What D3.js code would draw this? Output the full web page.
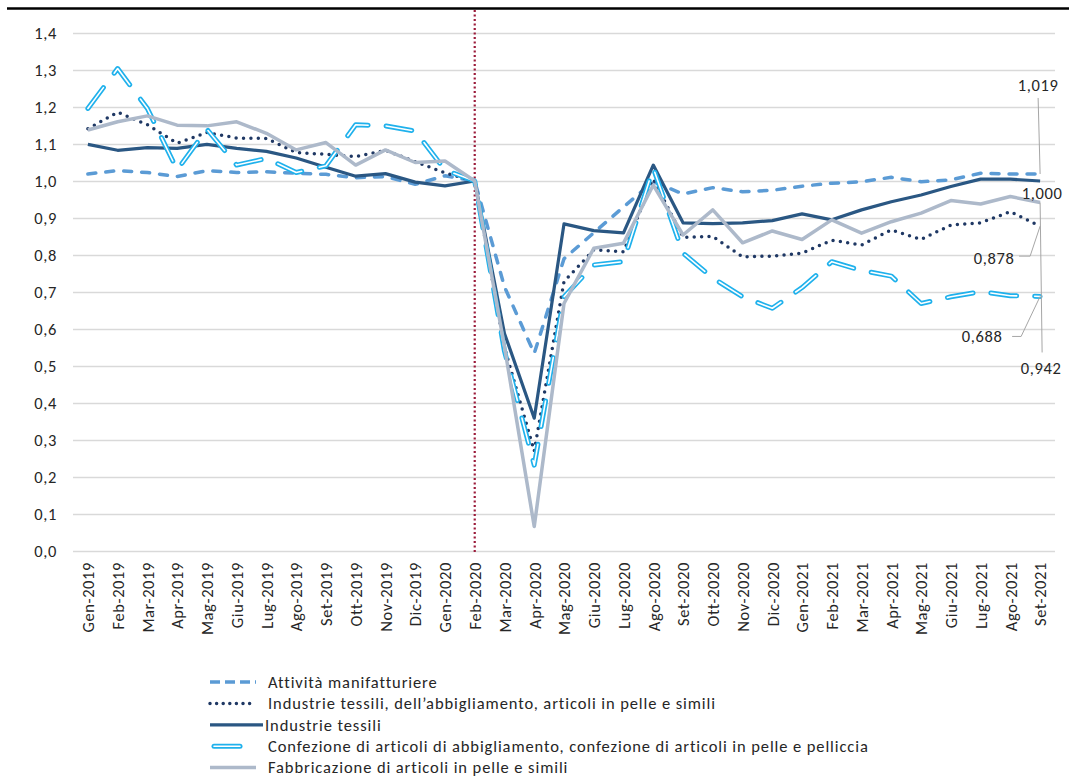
<!DOCTYPE html>
<html>
<head>
<meta charset="utf-8">
<script src="https://cdn.jsdelivr.net/npm/d3@7"></script>
<style>
	body { margin: 0; background: #fff; }
	text { font-family: Carlito, Lato, "Open Sans", sans-serif; }
</style>
</head>
<body>
<div id="chart"></div>
<script>
// mesi (asse x)
const months = ['Gen-2019','Feb-2019','Mar-2019','Apr-2019','Mag-2019','Giu-2019','Lug-2019','Ago-2019','Set-2019','Ott-2019','Nov-2019','Dic-2019',
	'Gen-2020','Feb-2020','Mar-2020','Apr-2020','Mag-2020','Giu-2020','Lug-2020','Ago-2020','Set-2020','Ott-2020','Nov-2020','Dic-2020',
	'Gen-2021','Feb-2021','Mar-2021','Apr-2021','Mag-2021','Giu-2021','Lug-2021','Ago-2021','Set-2021'];

const attivita   = [1.019,1.028,1.023,1.012,1.028,1.023,1.025,1.021,1.018,1.009,1.012,0.991,1.014,1.000,
	0.714,0.534,0.790,0.860,0.930,0.998,0.965,0.982,0.971,0.975,0.986,0.994,0.998,1.010,0.998,1.003,1.021,1.019,1.019];
const tessAbbPel = [1.141,1.186,1.152,1.102,1.131,1.116,1.115,1.077,1.072,1.066,1.083,1.052,1.022,1.000,
	0.550,0.270,0.728,0.814,0.809,1.005,0.848,0.850,0.795,0.797,0.805,0.840,0.827,0.868,0.842,0.881,0.887,0.917,0.878];
const tessili    = [1.099,1.083,1.090,1.088,1.099,1.088,1.080,1.062,1.037,1.013,1.020,0.997,0.987,1.000,
	0.588,0.359,0.884,0.866,0.860,1.043,0.887,0.885,0.887,0.893,0.911,0.895,0.922,0.944,0.962,0.985,1.005,1.005,1.000];
const confezione = [1.196,1.304,1.196,1.030,1.140,1.043,1.061,1.023,1.041,1.152,1.149,1.135,1.030,1.000,
	0.540,0.232,0.687,0.773,0.782,1.035,0.805,0.738,0.687,0.656,0.712,0.782,0.758,0.743,0.669,0.687,0.701,0.690,0.688];
const pelle      = [1.138,1.160,1.176,1.151,1.149,1.160,1.129,1.084,1.104,1.043,1.084,1.050,1.054,1.000,
	0.552,0.066,0.669,0.818,0.832,0.989,0.854,0.922,0.833,0.865,0.842,0.895,0.859,0.890,0.913,0.947,0.938,0.958,0.942];

const seriesNames = ['Attività manifatturiere',
	'Industrie tessili, dell\u2019abbigliamento, articoli in pelle e simili',
	'Industrie tessili',
	'Confezione di articoli di abbigliamento, confezione di articoli in pelle e pelliccia',
	'Fabbricazione di articoli in pelle e simili'];
const seriesValues = [attivita, tessAbbPel, tessili, confezione, pelle];
const endLabels = ['1,019', '0,878', '1,000', '0,688', '0,942'];
const yTicks = d3.range(0, 15).map(d => d / 10);
const eventMonth = 'Feb-2020';

let width  = 1069,
	height = 780,
	plot   = {left: 73, right: 1055, top: 33, bottom: 551},
	fontSize = '16.5px',
	spacing  = '0.6px',
	styles = [
		{color: '#5b9bd5', width: 3.5, dash: '8,10', cap: 'round'},
		{color: '#1f3864', width: 3.5, dash: '0,7.4', cap: 'round'},
		{color: '#2a5783', width: 3.2, dash: null, cap: 'butt'},
		{color: '#1fb1ec', width: 5, dash: '26,18', cap: 'round', inner: true},
		{color: '#adb9ca', width: 3.5, dash: null, cap: 'butt'}
	],
	// label placement: [dx, dy] of text from last point, leader polyline offsets
	labelPos = [
		{dx: -2, dy: -89, leader: [[0, 0], [-2, -76]]},
		{dx: -46, dy: 32, leader: [[0, 0], [-10, 30], [-21, 30]]},
		{dx: 2, dy: 12, leader: null},
		{dx: -58, dy: 40, leader: [[0, 0], [-19, 40], [-28, 40]]},
		{dx: 1, dy: 166, leader: [[0, 0], [2, 150]]}
	];

let x = d3.scalePoint().domain(months).range([plot.left, plot.right]).padding(0.5);
let y = d3.scaleLinear().domain([0, 1.4]).range([plot.bottom, plot.top]);
let fmt = d => d3.format('.1f')(d).replace('.', ',');

let svg = d3.select('#chart').append('svg')
	.attr('width', width)
	.attr('height', height);

// top rule
svg.append('line')
	.attr('x1', 7).attr('x2', width)
	.attr('y1', 8.5).attr('y2', 8.5)
	.style('stroke', '#000')
	.style('stroke-width', 2.5);

// grid
svg.append('g')
	.selectAll('line')
	.data(yTicks).enter().append('line')
	.attr('x1', plot.left).attr('x2', plot.right)
	.attr('y1', d => Math.round(y(d)) + 0.5)
	.attr('y2', d => Math.round(y(d)) + 0.5)
	.style('stroke', '#d9d9d9')
	.style('stroke-width', 1.3);

// y axis labels
let yAxis = svg.append('g')
	.attr('transform', `translate(${plot.left}, 0)`)
	.call(d3.axisLeft(y).tickValues(yTicks).tickFormat(fmt).tickSize(0).tickPadding(16));
yAxis.select('.domain').remove();
yAxis.selectAll('text')
	.style('font-size', fontSize)
	.style('letter-spacing', spacing)
	.style('fill', '#262626');

// x axis labels
let xAxis = svg.append('g')
	.attr('transform', `translate(0, ${plot.bottom})`)
	.call(d3.axisBottom(x).tickSize(0).tickPadding(0));
xAxis.select('.domain').remove();
xAxis.selectAll('text')
	.attr('transform', 'rotate(-90)')
	.attr('x', -11)
	.attr('y', 0)
	.attr('dy', '0.35em')
	.style('text-anchor', 'end')
	.style('font-size', fontSize)
	.style('letter-spacing', spacing)
	.style('fill', '#262626');

// event line
svg.append('line')
	.attr('x1', x(eventMonth)).attr('x2', x(eventMonth))
	.attr('y1', 10).attr('y2', plot.bottom + 2)
	.style('stroke', '#9b1b3a')
	.style('stroke-width', 2.2)
	.style('stroke-dasharray', '2,2.5');

let line = d3.line()
	.x((d, i) => x(months[i]))
	.y(d => y(d));

let seriesData = seriesValues.map((values, k) => ({values, k}));

let series = svg.append('g').selectAll('g')
	.data(seriesData).enter().append('g');

series.append('path')
	.attr('d', d => line(d.values))
	.style('fill', 'none')
	.style('stroke', d => styles[d.k].color)
	.style('stroke-width', d => styles[d.k].width)
	.style('stroke-dasharray', d => styles[d.k].dash)
	.style('stroke-linecap', d => styles[d.k].cap)
	.style('stroke-linejoin', 'round');

series.filter(d => styles[d.k].inner)
	.append('path')
	.attr('d', d => line(d.values))
	.style('fill', 'none')
	.style('stroke', '#fff')
	.style('stroke-width', 1.6)
	.style('stroke-dasharray', '26,18')
	.style('stroke-linecap', 'round')
	.style('stroke-linejoin', 'round');

// end labels
let last = months[months.length - 1];
let labels = svg.append('g').selectAll('g')
	.data(seriesData).enter().append('g')
	.attr('transform', d => `translate(${x(last)}, ${y(d.values[d.values.length - 1])})`);

labels.filter(d => labelPos[d.k].leader)
	.append('polyline')
	.attr('points', d => labelPos[d.k].leader.map(p => p.join(',')).join(' '))
	.style('fill', 'none')
	.style('stroke', '#a6a6a6')
	.style('stroke-width', 1);

labels.append('text')
	.attr('x', d => labelPos[d.k].dx)
	.attr('y', d => labelPos[d.k].dy)
	.attr('dy', '0.35em')
	.style('text-anchor', 'middle')
	.style('font-size', fontSize)
	.style('letter-spacing', spacing)
	.style('fill', '#262626')
	.text(d => endLabels[d.k]);

// legend
let legend = svg.append('g')
	.attr('transform', 'translate(210, 682)')
	.selectAll('g')
	.data(seriesNames.map((name, k) => ({name, k}))).enter().append('g')
	.attr('transform', d => `translate(0, ${d.k * 21.4})`);

legend.append('line')
	.attr('x1', d => d.k === 3 ? 4 : 0)
	.attr('x2', d => d.k === 3 ? 30 : (d.k === 2 ? 53 : 46))
	.style('stroke', d => styles[d.k].color)
	.style('stroke-width', d => styles[d.k].width)
	.style('stroke-dasharray', d => d.k === 0 ? '10,5' : (d.k === 1 ? '0,6.6' : null))
	.style('stroke-linecap', d => d.k === 1 || d.k === 3 ? 'round' : 'butt');

legend.filter(d => styles[d.k].inner)
	.append('line')
	.attr('x1', 4).attr('x2', 30)
	.style('stroke', '#fff')
	.style('stroke-width', 1.6)
	.style('stroke-linecap', 'round');

legend.append('text')
	.attr('x', d => d.k === 2 ? 55 : 58)
	.attr('dy', '0.35em')
	.style('font-size', '16.5px')
	.style('letter-spacing', '0.9px')
	.style('fill', '#262626')
	.text(d => d.name);
</script>
</body>
</html>
